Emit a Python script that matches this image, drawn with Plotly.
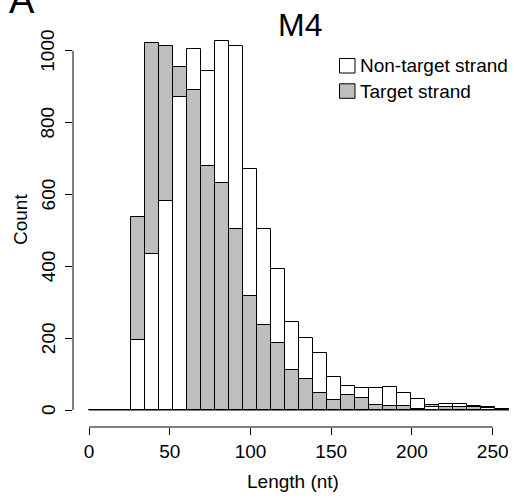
import numpy as np
import plotly.graph_objects as go

# ---------------- data ----------------
bin_start = 0.0
bin_end = 260.0
n_bins = 30
non_target = [0, 0, 0, 196, 435, 583, 870, 1005, 943, 1026, 1013, 672, 505, 392, 246,
              200, 159, 92, 66, 62, 61, 63, 46, 31, 9, 18, 16, 12, 6, 4]
target = [0, 0, 0, 537, 1022, 1014, 956, 891, 678, 632, 503, 317, 236, 186, 112,
          85, 48, 27, 42, 33, 14, 11, 12, 3, 14, 9, 7, 7, 9, 4]
x_ticks = [0, 50, 100, 150, 200, 250]
y_ticks = [0, 200, 400, 600, 800, 1000]
title = "M4"
panel = "A"
names = ["Non-target strand", "Target strand"]

# ---------------- styling ----------------
W, H = 514, 498
ML, MR, MT, MB = 73, 0, 30, 71
WHITE = "#FFFFFF"
GRAY = "#BEBEBE"
FONT = "Liberation Sans, Arial, Helvetica, sans-serif"

edges = np.linspace(bin_start, bin_end, n_bins + 1)
centers = (edges[:-1] + edges[1:]) / 2
bw = edges[1] - edges[0]

nt = np.array(non_target)
tg = np.array(target)
back_vals = np.maximum(nt, tg)
front_vals = np.minimum(nt, tg)
back_cols = [WHITE if a >= b else GRAY for a, b in zip(nt, tg)]
front_cols = [GRAY if a >= b else WHITE for a, b in zip(nt, tg)]

fig = go.Figure()
fig.add_trace(go.Bar(x=centers, y=back_vals, width=bw, name="larger",
                     marker=dict(color=back_cols, line=dict(color="black", width=1)),
                     showlegend=False))
fig.add_trace(go.Bar(x=centers, y=front_vals, width=bw, name="smaller",
                     marker=dict(color=front_cols, line=dict(color="black", width=1)),
                     showlegend=False))

# pixel -> paper helpers
PW = W - ML - MR
PH = H - MT - MB
def px(x):
    return (x - ML) / PW
def py(y):
    return (H - MB - y) / PH

x0_px, x_scale = 89.0, 1.6147
y0_px, y_scale = 410.0, 0.3593
xr = [(ML - x0_px) / x_scale, (W - MR - x0_px) / x_scale]
yr = [(y0_px - (H - MB)) / y_scale, (y0_px - MT) / y_scale]

shapes = []
# axis lines R style
shapes.append(dict(type="line", xref="x", yref="paper", x0=x_ticks[0], x1=x_ticks[-1],
                   y0=0, y1=0, line=dict(color="black", width=1)))
shapes.append(dict(type="line", xref="paper", yref="y", x0=0, x1=0,
                   y0=y_ticks[0], y1=y_ticks[-1], line=dict(color="black", width=1)))
# baseline under bars
shapes.append(dict(type="line", xref="x", yref="y", x0=edges[0], x1=edges[-1],
                   y0=0, y1=0, line=dict(color="black", width=1), layer="below"))
# legend boxes
for i, col in enumerate([WHITE, GRAY]):
    top = 58.5 + i * 25.3
    shapes.append(dict(type="rect", xref="paper", yref="paper",
                       x0=px(339.5), x1=px(355), y0=py(top), y1=py(top + 14.5),
                       fillcolor=col, line=dict(color="black", width=1)))

annotations = []
# rotated y tick labels (R style, las=0)
for v in y_ticks:
    annotations.append(dict(text=str(v), xref="paper", yref="y", x=px(48), y=v,
                            xanchor="center", yanchor="middle", showarrow=False,
                            textangle=-90, font=dict(size=19, color="black", family=FONT)))
for i, nm in enumerate(names):
    annotations.append(dict(text=nm, xref="paper", yref="paper", x=px(358), y=py(65.5 + i * 25.5),
                            xanchor="left", yanchor="middle", showarrow=False,
                            font=dict(size=19, color="black", family=FONT)))
annotations.append(dict(text=title, xref="paper", yref="paper", x=px(300), y=py(25),
                        xanchor="center", yanchor="middle", showarrow=False,
                        font=dict(size=32, color="black", family=FONT)))
annotations.append(dict(text=panel, xref="paper", yref="paper", x=px(22), y=py(0),
                        xanchor="center", yanchor="middle", showarrow=False,
                        font=dict(size=38, color="black", family=FONT)))
annotations.append(dict(text="Count", xref="paper", yref="paper", x=px(20), y=py(220),
                        xanchor="center", yanchor="middle", showarrow=False, textangle=-90,
                        font=dict(size=19, color="black", family=FONT)))
annotations.append(dict(text="Length (nt)", xref="paper", yref="paper", x=px(293), y=py(481),
                        xanchor="center", yanchor="middle", showarrow=False,
                        font=dict(size=19, color="black", family=FONT)))

fig.update_layout(
    width=W, height=H, margin=dict(l=ML, r=MR, t=MT, b=MB, pad=0),
    paper_bgcolor="white", plot_bgcolor="white",
    barmode="overlay", bargap=0, showlegend=False,
    font=dict(family=FONT, size=19, color="black"),
    shapes=shapes, annotations=annotations,
    xaxis=dict(range=xr, showgrid=False, zeroline=False, showline=False,
               tickmode="array", tickvals=x_ticks, ticks="outside", ticklen=7,
               tickwidth=1, tickcolor="black", tickfont=dict(size=19)),
    yaxis=dict(range=yr, showgrid=False, zeroline=False, showline=False,
               tickmode="array", tickvals=y_ticks, ticks="outside", ticklen=7,
               tickwidth=1, tickcolor="black", showticklabels=False),
)

fig.write_html("out.html", config={"displayModeBar": False},
               post_script="document.body.style.margin='0';document.body.style.padding='0';")
